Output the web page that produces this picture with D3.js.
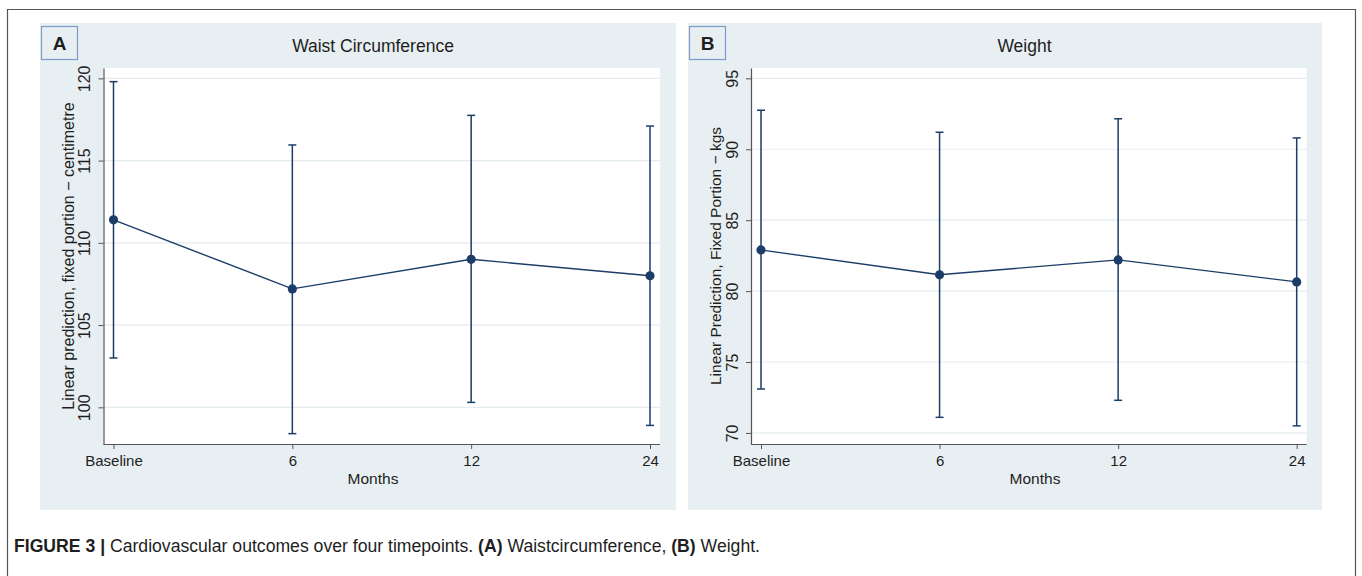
<!DOCTYPE html>
<html>
<head>
<meta charset="utf-8">
<script src="https://cdn.jsdelivr.net/npm/d3@7"></script>
<style>
 body { margin: 0; background: #fff; }
 svg text { font-family: "Liberation Sans", Arial, sans-serif; fill: #1e1e1e; }
</style>
</head>
<body>
<svg id="chart" width="1362" height="576"></svg>
<script>
 // categories shared by both panels
 const months = ['Baseline', '6', '12', '24'];

 // Panel A - waist circumference (cm)
 const waistMean = [111.4, 107.2, 109.0, 108.0];
 const waistLow = [103.0, 98.4, 100.3, 98.9];
 const waistHigh = [119.8, 115.95, 117.75, 117.1];
 const waistTicks = [100, 105, 110, 115, 120];

 // Panel B - weight (kg)
 const weightMean = [82.9, 81.15, 82.2, 80.65];
 const weightLow = [73.1, 71.1, 72.3, 70.5];
 const weightHigh = [92.75, 91.2, 92.15, 90.8];
 const weightTicks = [70, 75, 80, 85, 90, 95];

 const navy = '#1b3d68';
 const svg = d3.select('#chart');

 // outer figure frame
 svg.append('path')
    .attr('d', 'M7.5,576 V9.5 H1355.5 V576')
    .attr('fill', 'none')
    .attr('stroke', '#555')
    .attr('stroke-width', 1.2);

 function panel(opt) {
   const g = svg.append('g');
   g.append('rect')
    .attr('x', opt.bx).attr('y', 23)
    .attr('width', opt.bw).attr('height', 487)
    .attr('fill', '#e8eff2');

   // letter box
   g.append('rect')
    .attr('x', opt.bx + 1.5).attr('y', 26.5)
    .attr('width', 36).attr('height', 33)
    .attr('fill', '#e8eff2')
    .attr('stroke', '#7c9bc9')
    .attr('stroke-width', 1.2);
   g.append('text')
    .attr('x', opt.bx + 19.5).attr('y', 50)
    .attr('text-anchor', 'middle')
    .style('font-size', '19px').style('font-weight', 'bold')
    .text(opt.letter);

   g.append('text')
    .attr('x', opt.titleX).attr('y', 52)
    .attr('text-anchor', 'middle')
    .style('font-size', '17.5px')
    .text(opt.title);

   const left = opt.px, right = opt.px + opt.pw, top = 68, bottom = 444;
   g.append('rect')
    .attr('x', left).attr('y', top)
    .attr('width', opt.pw).attr('height', bottom - top)
    .attr('fill', '#fff');

   const x = d3.scalePoint().domain(months).range([left + 10, right - 10]);
   const y = d3.scaleLinear().domain(opt.domain).range([bottom, top]);

   // grid
   g.selectAll('.grid').data(opt.ticks).enter().append('line')
    .attr('x1', left).attr('x2', right)
    .attr('y1', d => y(d)).attr('y2', d => y(d))
    .attr('stroke', '#e3ecf0').attr('stroke-width', 1.2);

   // y axis
   const ya = g.append('g')
    .attr('transform', `translate(${left},0)`)
    .call(d3.axisLeft(y).tickValues(opt.ticks).tickSize(5).tickPadding(0).tickSizeOuter(0));
   ya.select('.domain').attr('stroke', '#555').attr('stroke-width', 1.2);
   ya.selectAll('.tick line').attr('stroke', '#555');
   ya.selectAll('.tick text')
    .attr('x', 0).attr('dy', null)
    .attr('text-anchor', 'middle')
    .attr('transform', `translate(-19,0) rotate(-90) translate(0,5.5)`)
    .style('font-size', '16px')
    .style('font-family', '"Liberation Sans", Arial, sans-serif')
    .attr('fill', '#1e1e1e');

   // x axis
   const xa = g.append('g')
    .attr('transform', `translate(0,${bottom})`)
    .call(d3.axisBottom(x).tickSize(5).tickPadding(6).tickSizeOuter(0));
   xa.select('.domain').attr('d', `M${left},0.5H${right}`).attr('stroke', '#555').attr('stroke-width', 1.2);
   xa.selectAll('.tick line').attr('stroke', '#555');
   xa.selectAll('.tick text')
    .attr('y', 22).attr('dy', null)
    .style('font-size', '15px')
    .style('font-family', '"Liberation Sans", Arial, sans-serif')
    .attr('fill', '#1e1e1e');

   g.append('text')
    .attr('x', opt.monthsX).attr('y', 484)
    .attr('text-anchor', 'middle')
    .style('font-size', '15.5px')
    .text('Months');

   g.append('text')
    .attr('transform', `translate(${left - 35},${(top + bottom) / 2}) rotate(-90)`)
    .attr('dy', '0.35em')
    .attr('text-anchor', 'middle')
    .style('font-size', opt.ysize)
    .text(opt.ytitle);

   // error bars
   const rows = months.map((m, i) => ({ m, mean: opt.mean[i], lo: opt.low[i], hi: opt.high[i] }));
   const bars = g.selectAll('.bar').data(rows).enter().append('g');
   bars.append('line')
    .attr('x1', d => x(d.m)).attr('x2', d => x(d.m))
    .attr('y1', d => y(d.lo)).attr('y2', d => y(d.hi))
    .attr('stroke', navy).attr('stroke-width', 1.5);
   ['lo', 'hi'].forEach(k => {
     bars.append('line')
      .attr('x1', d => x(d.m) - 4).attr('x2', d => x(d.m) + 4)
      .attr('y1', d => y(d[k])).attr('y2', d => y(d[k]))
      .attr('stroke', navy).attr('stroke-width', 1.5);
   });

   g.append('path')
    .datum(rows)
    .attr('fill', 'none')
    .attr('stroke', navy)
    .attr('stroke-width', 1.4)
    .attr('d', d3.line().x(d => x(d.m)).y(d => y(d.mean)));

   g.selectAll('.pt').data(rows).enter().append('circle')
    .attr('cx', d => x(d.m)).attr('cy', d => y(d.mean))
    .attr('r', 4.6)
    .attr('fill', navy);
 }

 panel({
   letter: 'A', title: 'Waist Circumference',
   bx: 40, bw: 636, px: 103.5, pw: 556.5, titleX: 373, monthsX: 373,
   domain: [97.77, 120.63], ticks: waistTicks,
   mean: waistMean, low: waistLow, high: waistHigh,
   ytitle: 'Linear prediction, fixed portion \u2212 centimetre', ysize: '16px'
 });

 panel({
   letter: 'B', title: 'Weight',
   bx: 688, bw: 634, px: 751, pw: 555.7, titleX: 1024.5, monthsX: 1035,
   domain: [69.22, 95.73], ticks: weightTicks,
   mean: weightMean, low: weightLow, high: weightHigh,
   ytitle: 'Linear Prediction, Fixed Portion \u2212 kgs', ysize: '15.5px'
 });

 // caption
 const cap = svg.append('text')
    .attr('x', 14).attr('y', 552)
    .attr('textLength', 746)
    .attr('lengthAdjust', 'spacingAndGlyphs')
    .style('font-size', '17.5px')
    .attr('fill', '#1e1e1e');
 cap.append('tspan').style('font-weight', 'bold').text('FIGURE 3 | ');
 cap.append('tspan').text('Cardiovascular outcomes over four timepoints. ');
 cap.append('tspan').style('font-weight', 'bold').text('(A)');
 cap.append('tspan').text(' Waistcircumference, ');
 cap.append('tspan').style('font-weight', 'bold').text('(B)');
 cap.append('tspan').text(' Weight.');
</script>
</body>
</html>
